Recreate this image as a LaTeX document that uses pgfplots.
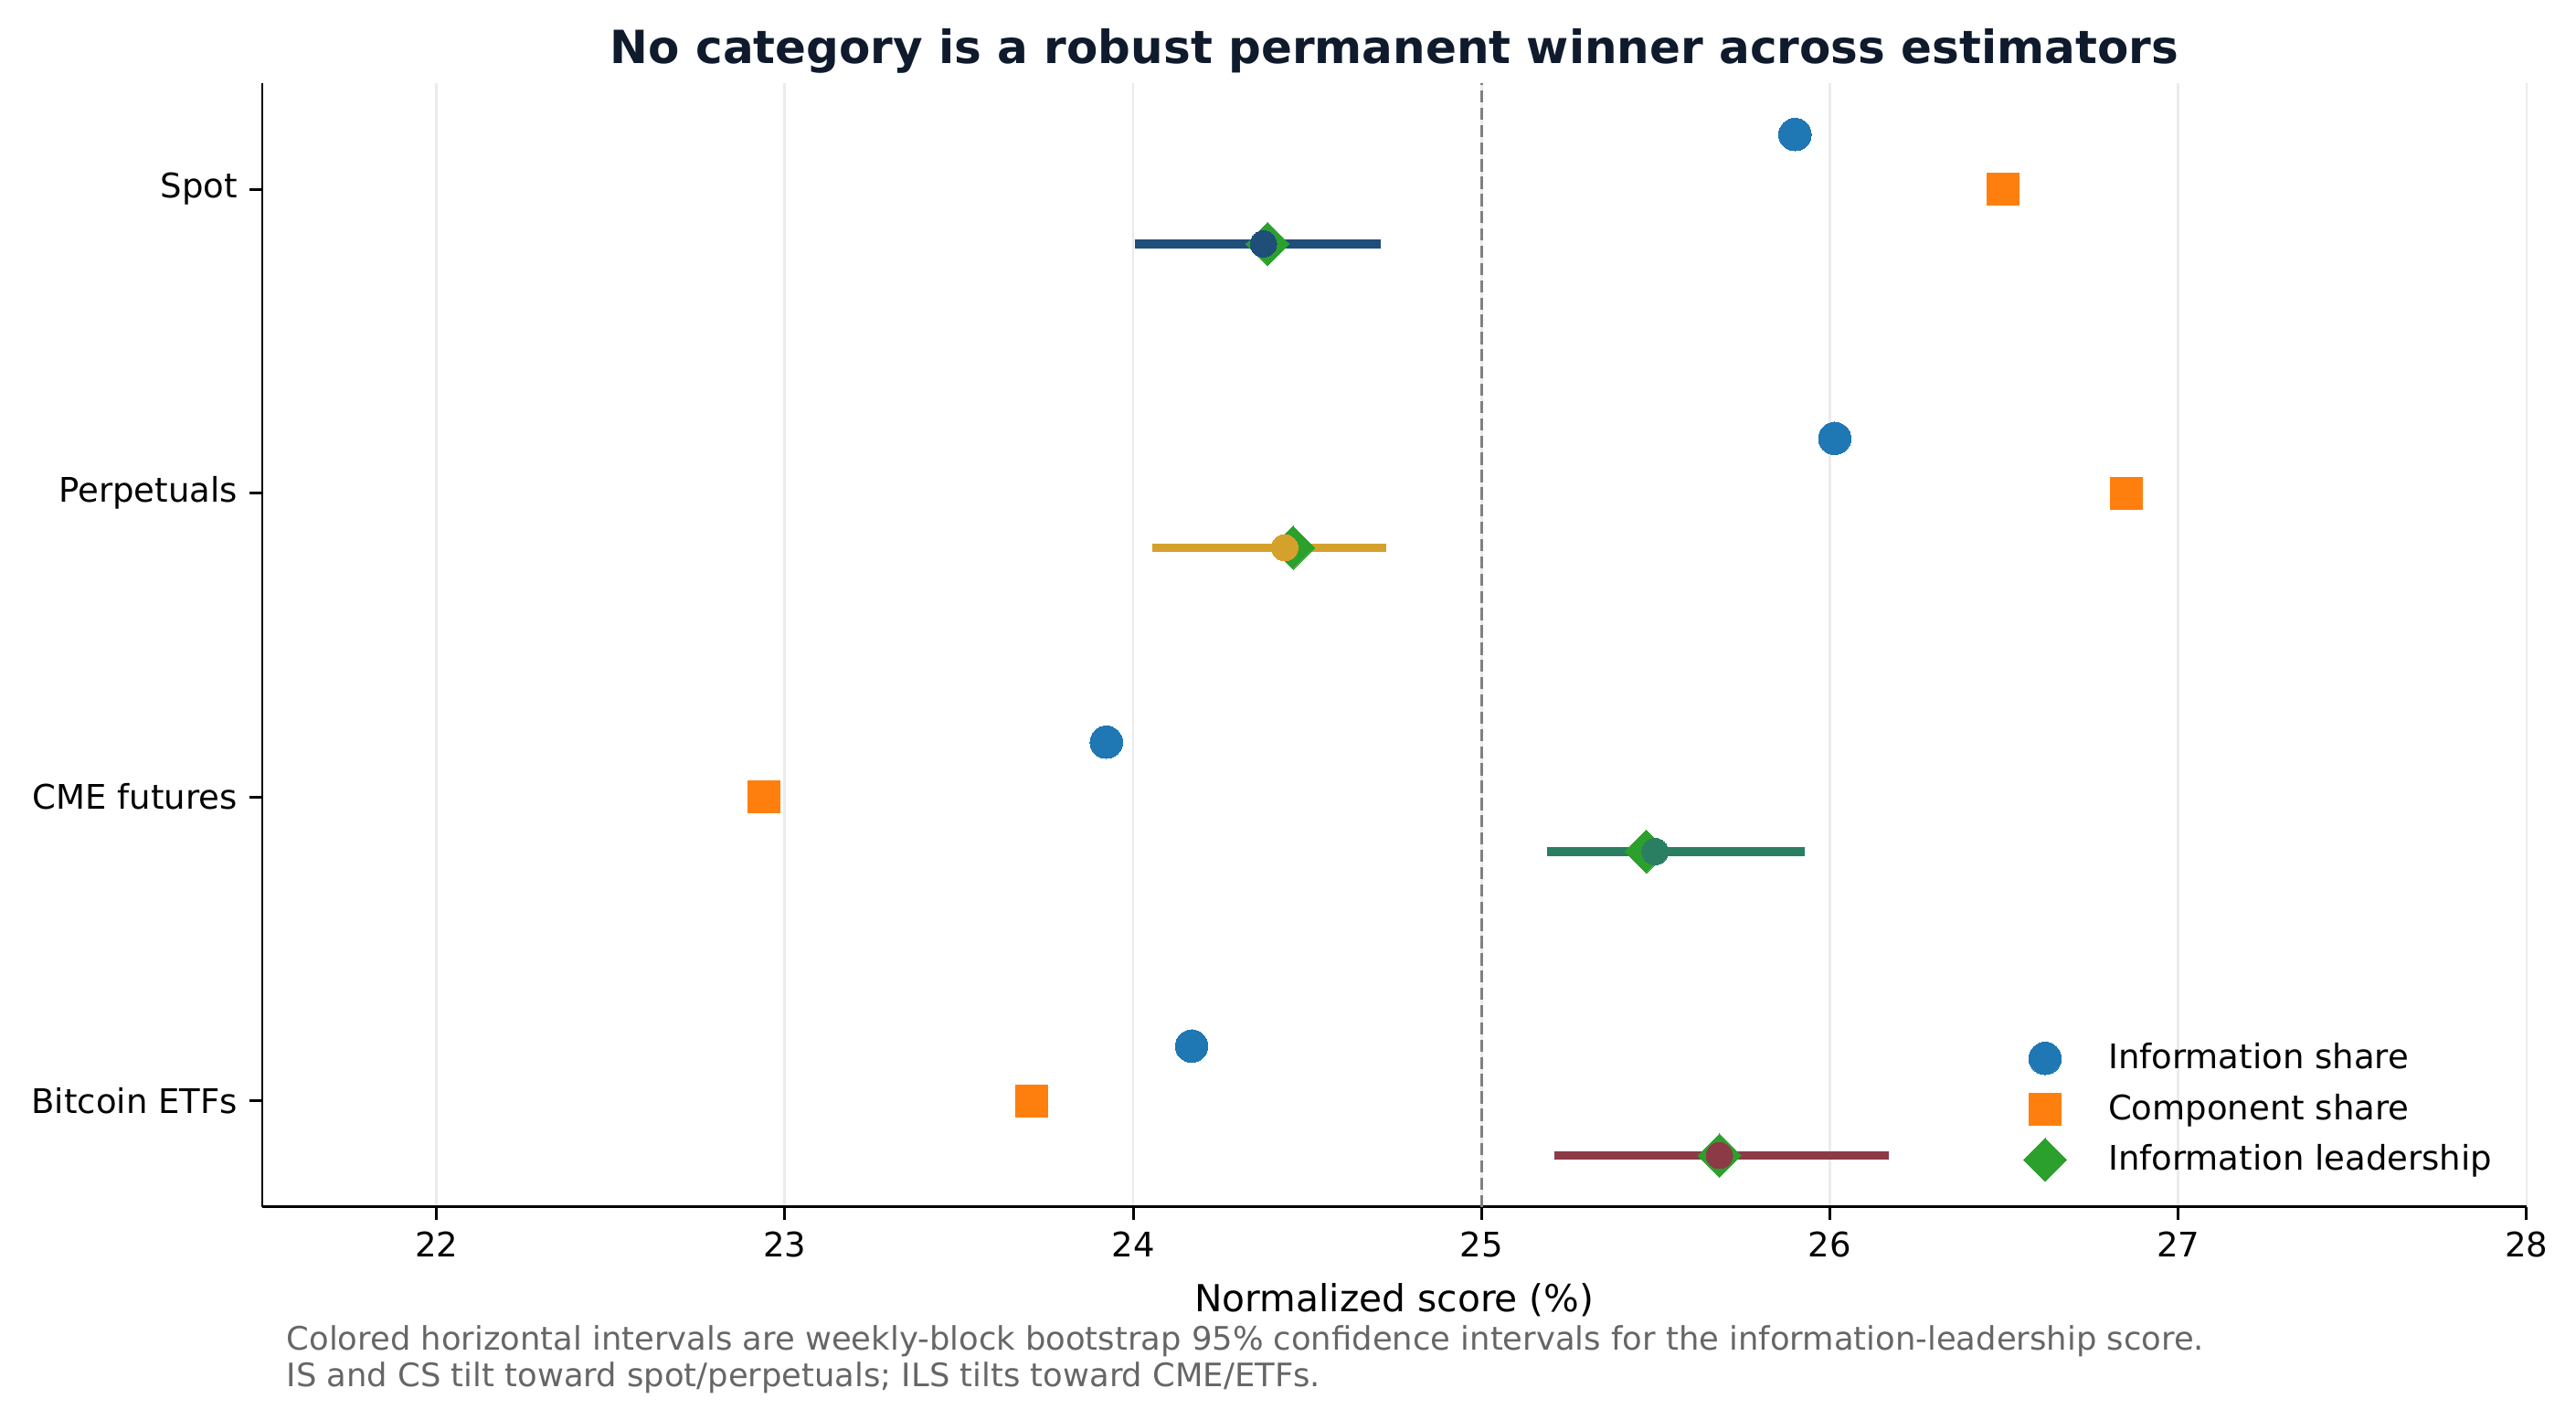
\documentclass[border=0pt]{standalone}
\usepackage{fontspec}
\setmainfont{DejaVu Sans}
\usepackage{pgfplots}
\pgfplotsset{compat=1.18}
\definecolor{isblue}{HTML}{1F77B4}
\definecolor{csorange}{HTML}{FF7F0E}
\definecolor{ilsgreen}{HTML}{2CA02C}
\definecolor{cspot}{HTML}{1F4E79}
\definecolor{cperp}{HTML}{D4A12C}
\definecolor{ccme}{HTML}{2A7F62}
\definecolor{cetf}{HTML}{8C3A46}
\definecolor{titlec}{HTML}{0F1B2D}
\definecolor{gridc}{HTML}{EBEBEB}
\definecolor{notec}{HTML}{666666}
\begin{document}
\begin{tikzpicture}
\path[use as bounding box] (-77.5pt,-62.9pt) rectangle (683.7pt,356.7pt);
\begin{axis}[
  at={(0pt,0pt)}, anchor=south west,
  scale only axis, width=669.1pt, height=332.2pt,
  xmin=21.5, xmax=28, ymin=-0.35, ymax=3.35,
  axis x line*=bottom, axis y line*=left,
  axis line style={line width=0.8pt, -},
  xtick={22,23,24,25,26,27,28},
  ytick={0,1,2,3},
  yticklabels={Bitcoin ETFs, CME futures, Perpetuals, Spot},
  tick align=outside,
  major tick length=3.8pt,
  tick style={line width=0.8pt, black},
  xmajorgrids, ymajorgrids=false,
  major grid style={gridc, line width=0.75pt},
  ticklabel style={font=\fontsize{10}{12}\selectfont},
  /pgf/number format/assume math mode=true,
  xlabel={Normalized score (\%)},
  xlabel style={font=\fontsize{11}{13}\selectfont, at={(axis description cs:0.5,0)}, anchor=base, yshift=-30.8pt},
  clip=false,
  legend style={at={(1,0)}, anchor=south east, xshift=-5.0pt, yshift=5.2pt, draw=none, fill=none,
    font=\fontsize{10}{12}\selectfont, row sep=1.9pt},
  legend cell align=left,
  /tikz/every odd column/.append style={column sep=10.3pt},
]
% reference line at 25
\addplot[forget plot, gray, line width=0.9pt, dash pattern=on 3.6pt off 1.5pt] coordinates {(25,-0.35) (25,3.35)};
% confidence intervals (information leadership)
\addplot[forget plot, cspot, line width=2.5pt] coordinates {(24.004,2.82) (24.710,2.82)};
\addplot[forget plot, cperp, line width=2.5pt] coordinates {(24.056,1.82) (24.726,1.82)};
\addplot[forget plot, ccme, line width=2.5pt] coordinates {(25.187,0.82) (25.929,0.82)};
\addplot[forget plot, cetf, line width=2.5pt] coordinates {(25.208,-0.18) (26.168,-0.18)};
% Information share
\addplot[only marks, isblue, mark=*, mark size=4.8pt, mark options={fill=isblue, draw=isblue, line width=0pt}] coordinates {
  (25.900,3.18) (26.014,2.18) (23.923,1.18) (24.168,0.18)};
\addlegendentry{Information share}
% Component share
\addplot[only marks, csorange, mark=square*, mark size=4.7pt, mark options={fill=csorange, draw=csorange, line width=0pt}] coordinates {
  (26.497,3.00) (26.851,2.00) (22.940,1.00) (23.709,0.00)};
\addlegendentry{Component share}
% Information leadership
\addplot[only marks, ilsgreen, mark=square*, mark size=4.5pt, mark options={fill=ilsgreen, draw=ilsgreen, line width=0pt, rotate=45}] coordinates {
  (24.386,2.82) (24.459,1.82) (25.473,0.82) (25.683,-0.18)};
\addlegendentry{Information leadership}
% bootstrap centre dots
\addplot[forget plot, only marks, cspot, mark=*, mark size=3.9pt, mark options={fill=cspot, draw=cspot, line width=0pt}] coordinates {(24.374,2.82)};
\addplot[forget plot, only marks, cperp, mark=*, mark size=3.9pt, mark options={fill=cperp, draw=cperp, line width=0pt}] coordinates {(24.435,1.82)};
\addplot[forget plot, only marks, ccme, mark=*, mark size=3.9pt, mark options={fill=ccme, draw=ccme, line width=0pt}] coordinates {(25.498,0.82)};
\addplot[forget plot, only marks, cetf, mark=*, mark size=3.9pt, mark options={fill=cetf, draw=cetf, line width=0pt}] coordinates {(25.683,-0.18)};
\end{axis}
\node[anchor=base, font=\fontsize{13.5}{16}\selectfont\bfseries, text=titlec] at (334.55pt,337.8pt)
  {No category is a robust permanent winner across estimators};
\node[anchor=base west, font=\fontsize{9.55}{11}\selectfont, text=notec, inner sep=0pt] at (7pt,-42.4pt)
  {Colored horizontal intervals are weekly-block bootstrap 95\% confidence intervals for the information-leadership score.};
\node[anchor=base west, font=\fontsize{9.55}{11}\selectfont, text=notec, inner sep=0pt] at (7pt,-53.2pt)
  {IS and CS tilt toward spot/perpetuals; ILS tilts toward CME/ETFs.};
\end{tikzpicture}
\end{document}
